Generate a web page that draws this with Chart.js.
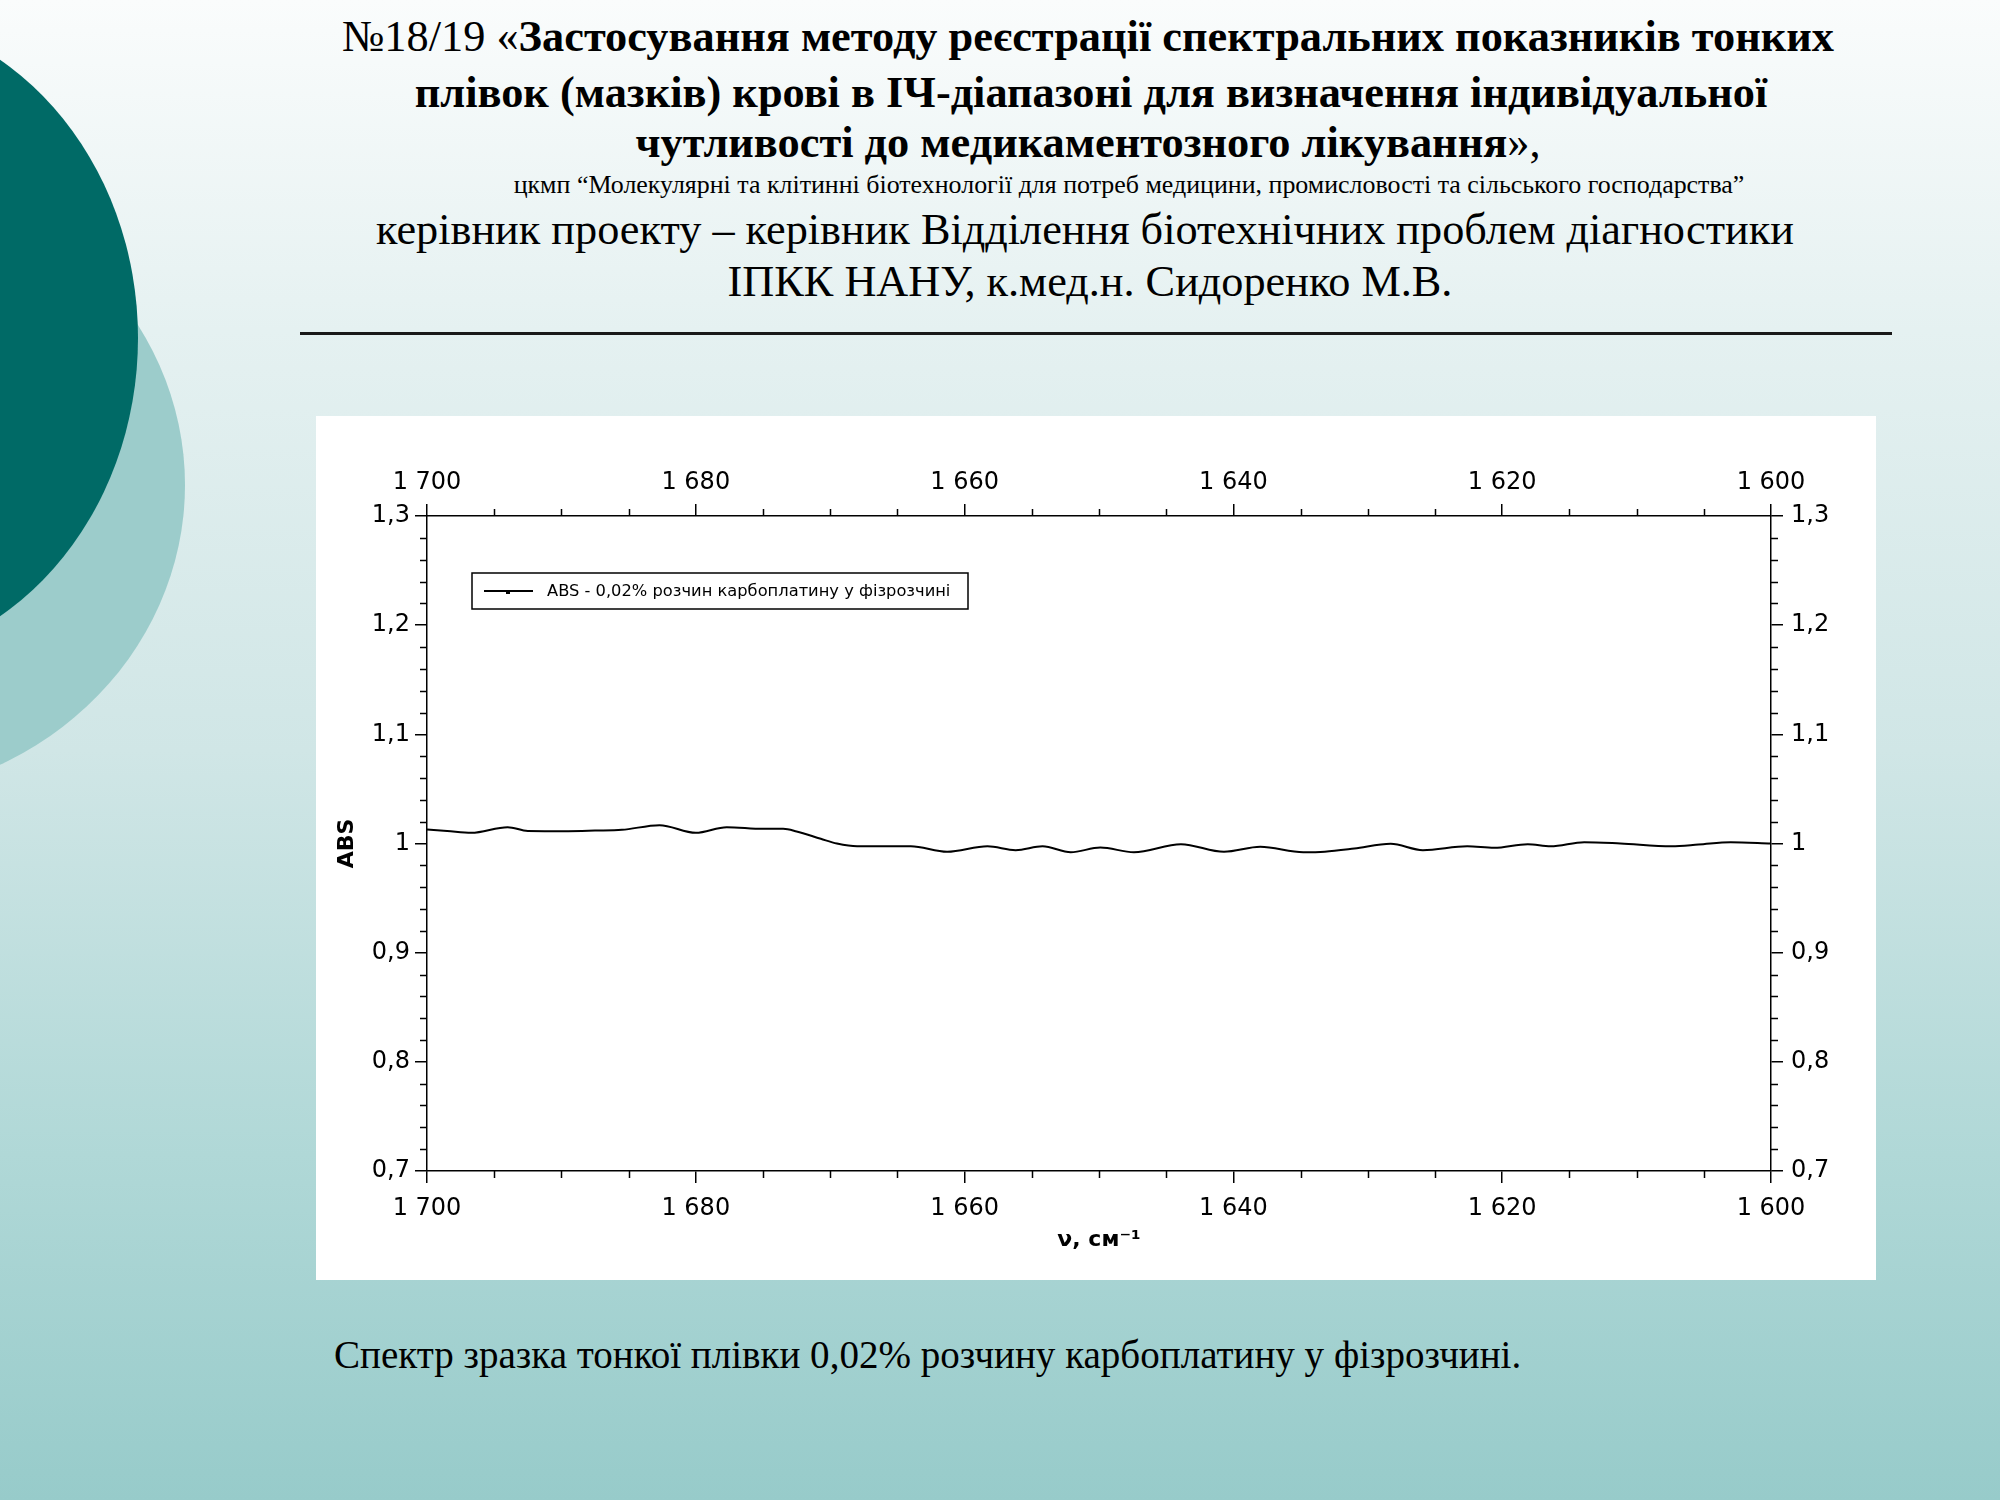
<!DOCTYPE html>
<html>
<head>
<meta charset="utf-8">
<script src="https://cdn.jsdelivr.net/npm/chart.js@4.4.1/dist/chart.umd.min.js"></script>
<style>
  html, body { margin: 0; padding: 0; }
  body {
    width: 2000px; height: 1500px; position: relative; overflow: hidden;
    background: linear-gradient(to bottom, #fafcfc 0%, #e5f1f1 22%, #d0e6e6 50%, #b0d8d7 77%, #97cbca 100%);
    font-family: "Liberation Serif", serif; color: #000;
  }
  .ell { position: absolute; border-radius: 50%; }
  .t { position: absolute; white-space: nowrap; line-height: 1; transform: translate(-50%, -50%); }
  .b { font-weight: bold; }
  #rule { position: absolute; left: 300px; top: 332px; width: 1592px; height: 3px; background: #1a1a1a; }
  #panel { position: absolute; left: 316px; top: 416px; width: 1560px; height: 864px; background: #fff; }
  #cap { position: absolute; left: 334px; top: 1355px; transform: translateY(-50%); white-space: nowrap; line-height: 1; }
</style>
</head>
<body>
<div class="ell" style="left:-485px; top:172px; width:670px; height:626px; background:#9ccccb;"></div>
<div class="ell" style="left:-438px; top:12px; width:576px; height:652px; background:#006a66;"></div>

<div class="t fit" data-w="1492" style="left:1088px; top:36px;">№18/19 «<span class="b">Застосування методу реєстрації спектральних показників тонких</span></div>
<div class="t fit b" data-w="1352" style="left:1091px; top:92px;">плівок (мазків) крові в ІЧ-діапазоні для визначення індивідуальної</div>
<div class="t fit" data-w="905" style="left:1088px; top:142px;"><span class="b">чутливості до медикаментозного лікування</span>»,</div>
<div class="t fit" data-w="1231" style="left:1129px; top:185px;">цкмп “Молекулярні та клітинні біотехнології для потреб медицини, промисловості та сільського господарства”</div>
<div class="t fit" data-w="1418" style="left:1085px; top:230px;">керівник проекту – керівник Відділення біотехнічних проблем діагностики</div>
<div class="t fit" data-w="725" style="left:1090px; top:282px;">ІПКК НАНУ, к.мед.н. Сидоренко М.В.</div>
<div id="rule"></div>

<div id="panel"><canvas id="c"></canvas></div>

<div id="cap" class="fit" data-w="1187">Спектр зразка тонкої плівки 0,02% розчину карбоплатину у фізрозчині.</div>

<script>
// ---- data ----
const wavenumbers = [1700.0, 1698.5, 1696.7, 1694.0, 1692.5, 1689.5, 1687.5, 1685.5, 1682.7, 1680.0,
  1677.7, 1675.0, 1673.5, 1672.5, 1670.7, 1669.5, 1668.0, 1664.0, 1661.3, 1658.3,
  1656.2, 1654.2, 1652.1, 1649.9, 1647.4, 1643.9, 1640.7, 1638.0, 1634.8, 1633.2,
  1631.0, 1628.3, 1625.9, 1622.6, 1620.6, 1618.1, 1616.4, 1613.9, 1611.2, 1607.4,
  1605.4, 1603.0, 1600.0];
const absorbance = [1.0128, 1.0115, 1.0098, 1.0150, 1.0115, 1.0113, 1.0118, 1.0125, 1.0168, 1.0098,
  1.0150, 1.0134, 1.0134, 1.0110, 1.0043, 1.0000, 0.9975, 0.9975, 0.9924, 0.9975,
  0.9939, 0.9975, 0.9920, 0.9963, 0.9920, 0.9994, 0.9924, 0.9970, 0.9920, 0.9925,
  0.9954, 0.9997, 0.9939, 0.9975, 0.9960, 0.9994, 0.9975, 1.0012, 1.0000, 0.9975,
  0.9990, 1.0012, 1.0000];
const seriesLabel = "ABS - 0,02% розчин карбоплатину у фізрозчині";
const xTitle = "ν, см⁻¹";
const yTitle = "ABS";
const xMin = 1600, xMax = 1700, xMajor = 20, xMinor = 5;
const yMin = 0.7, yMax = 1.3, yMajor = 0.1, yMinor = 0.02;

// ---- fit text widths ----
document.querySelectorAll('.fit').forEach(el => {
  const target = +el.dataset.w;
  let fs = 40; el.style.fontSize = fs + 'px';
  for (let i = 0; i < 4; i++) {
    const w = el.getBoundingClientRect().width;
    fs = fs * target / w; el.style.fontSize = fs + 'px';
  }
});

const fmtX = v => { const s = String(Math.round(v)); return s.length > 3 ? s.slice(0, s.length - 3) + ' ' + s.slice(-3) : s; };
const fmtY = v => String(Number(v.toFixed(2))).replace('.', ',');

const tickFont = { family: 'DejaVu Sans', size: 24 };
const gridOpts = { drawOnChartArea: false, drawTicks: true, tickLength: 12, color: '#000', lineWidth: 1.5 };
const borderOpts = { display: true, color: '#000', width: 1.5 };

function fixSize(prop, v) { return s => { s[prop] = v; }; }

const minorTicks = {
  id: 'minorTicks',
  afterDraw(chart) {
    const ctx = chart.ctx, a = chart.chartArea;
    ctx.save(); ctx.strokeStyle = '#000'; ctx.lineWidth = 1.5; ctx.beginPath();
    const sx = chart.scales.x, sy = chart.scales.y;
    for (let i = 0; xMin + i * xMinor <= xMax + 1e-9; i++) {
      const v = xMin + i * xMinor;
      if (Math.abs(v / xMajor - Math.round(v / xMajor)) < 1e-6) continue;
      const px = Math.round(sx.getPixelForValue(v)) + 0.5;
      ctx.moveTo(px, a.bottom); ctx.lineTo(px, a.bottom + 7);
      ctx.moveTo(px, a.top); ctx.lineTo(px, a.top - 7);
    }
    for (let i = 0; yMin + i * yMinor <= yMax + 1e-9; i++) {
      const v = yMin + i * yMinor;
      if (Math.abs(v / yMajor - Math.round(v / yMajor)) < 1e-6) continue;
      const py = Math.round(sy.getPixelForValue(v)) + 0.5;
      ctx.moveTo(a.left, py); ctx.lineTo(a.left - 7, py);
      ctx.moveTo(a.right, py); ctx.lineTo(a.right + 7, py);
    }
    ctx.stroke(); ctx.restore();
  }
};

const boxLegend = {
  id: 'boxLegend',
  afterDraw(chart) {
    const ctx = chart.ctx, a = chart.chartArea;
    const x = a.left + 45, y = a.top + 57, w = 496, h = 36;
    ctx.save();
    ctx.fillStyle = '#fff'; ctx.fillRect(x, y, w, h);
    ctx.strokeStyle = '#000'; ctx.lineWidth = 1.5; ctx.strokeRect(x, y, w, h);
    ctx.lineWidth = 2; ctx.beginPath(); ctx.moveTo(x + 12, y + h / 2); ctx.lineTo(x + 61, y + h / 2); ctx.stroke();
    ctx.fillStyle = '#000'; ctx.fillRect(x + 34, y + h / 2 - 1, 4, 4);
    ctx.font = '16.3px "DejaVu Sans"'; ctx.textBaseline = 'middle'; ctx.textAlign = 'left';
    ctx.fillText(chart.data.datasets[0].label, x + 75, y + h / 2 + 1);
    ctx.restore();
  }
};

new Chart(document.getElementById('c'), {
  type: 'line',
  data: {
    datasets: [{
      label: seriesLabel,
      data: wavenumbers.map((x, i) => ({ x, y: absorbance[i] })),
      borderColor: '#000', borderWidth: 2, pointRadius: 0, fill: false,
      cubicInterpolationMode: 'monotone'
    }]
  },
  plugins: [minorTicks, boxLegend],
  options: {
    responsive: true, maintainAspectRatio: false, animation: false, devicePixelRatio: 1,
    layout: { padding: 0 },
    plugins: { legend: { display: false }, tooltip: { enabled: false } },
    scales: {
      x: {
        type: 'linear', position: 'bottom', min: xMin, max: xMax, reverse: true,
        ticks: { stepSize: xMajor, callback: fmtX, font: tickFont, color: '#000', padding: 11, maxRotation: 0 },
        grid: gridOpts, border: borderOpts,
        title: { display: true, text: xTitle, font: { family: 'DejaVu Sans', size: 22, weight: 'bold' }, color: '#000', padding: { top: 0, bottom: 27 } },
        afterFit: fixSize('height', 109)
      },
      x2: {
        type: 'linear', position: 'top', min: xMin, max: xMax, reverse: true,
        ticks: { stepSize: xMajor, callback: fmtX, font: tickFont, color: '#000', padding: 7, maxRotation: 0 },
        grid: gridOpts, border: borderOpts,
        afterFit: fixSize('height', 100)
      },
      y: {
        type: 'linear', position: 'left', min: yMin, max: yMax,
        ticks: { stepSize: yMajor, callback: fmtY, font: tickFont, color: '#000', padding: 5 },
        grid: gridOpts, border: borderOpts,
        title: { display: true, text: yTitle, font: { family: 'DejaVu Sans', size: 22, weight: 'bold' }, color: '#000', padding: { top: 18, bottom: 0 } },
        afterFit: fixSize('width', 111)
      },
      y2: {
        type: 'linear', position: 'right', min: yMin, max: yMax,
        ticks: { stepSize: yMajor, callback: fmtY, font: tickFont, color: '#000', padding: 8 },
        grid: gridOpts, border: borderOpts,
        afterFit: fixSize('width', 105)
      }
    }
  }
});
</script>
</body>
</html>
